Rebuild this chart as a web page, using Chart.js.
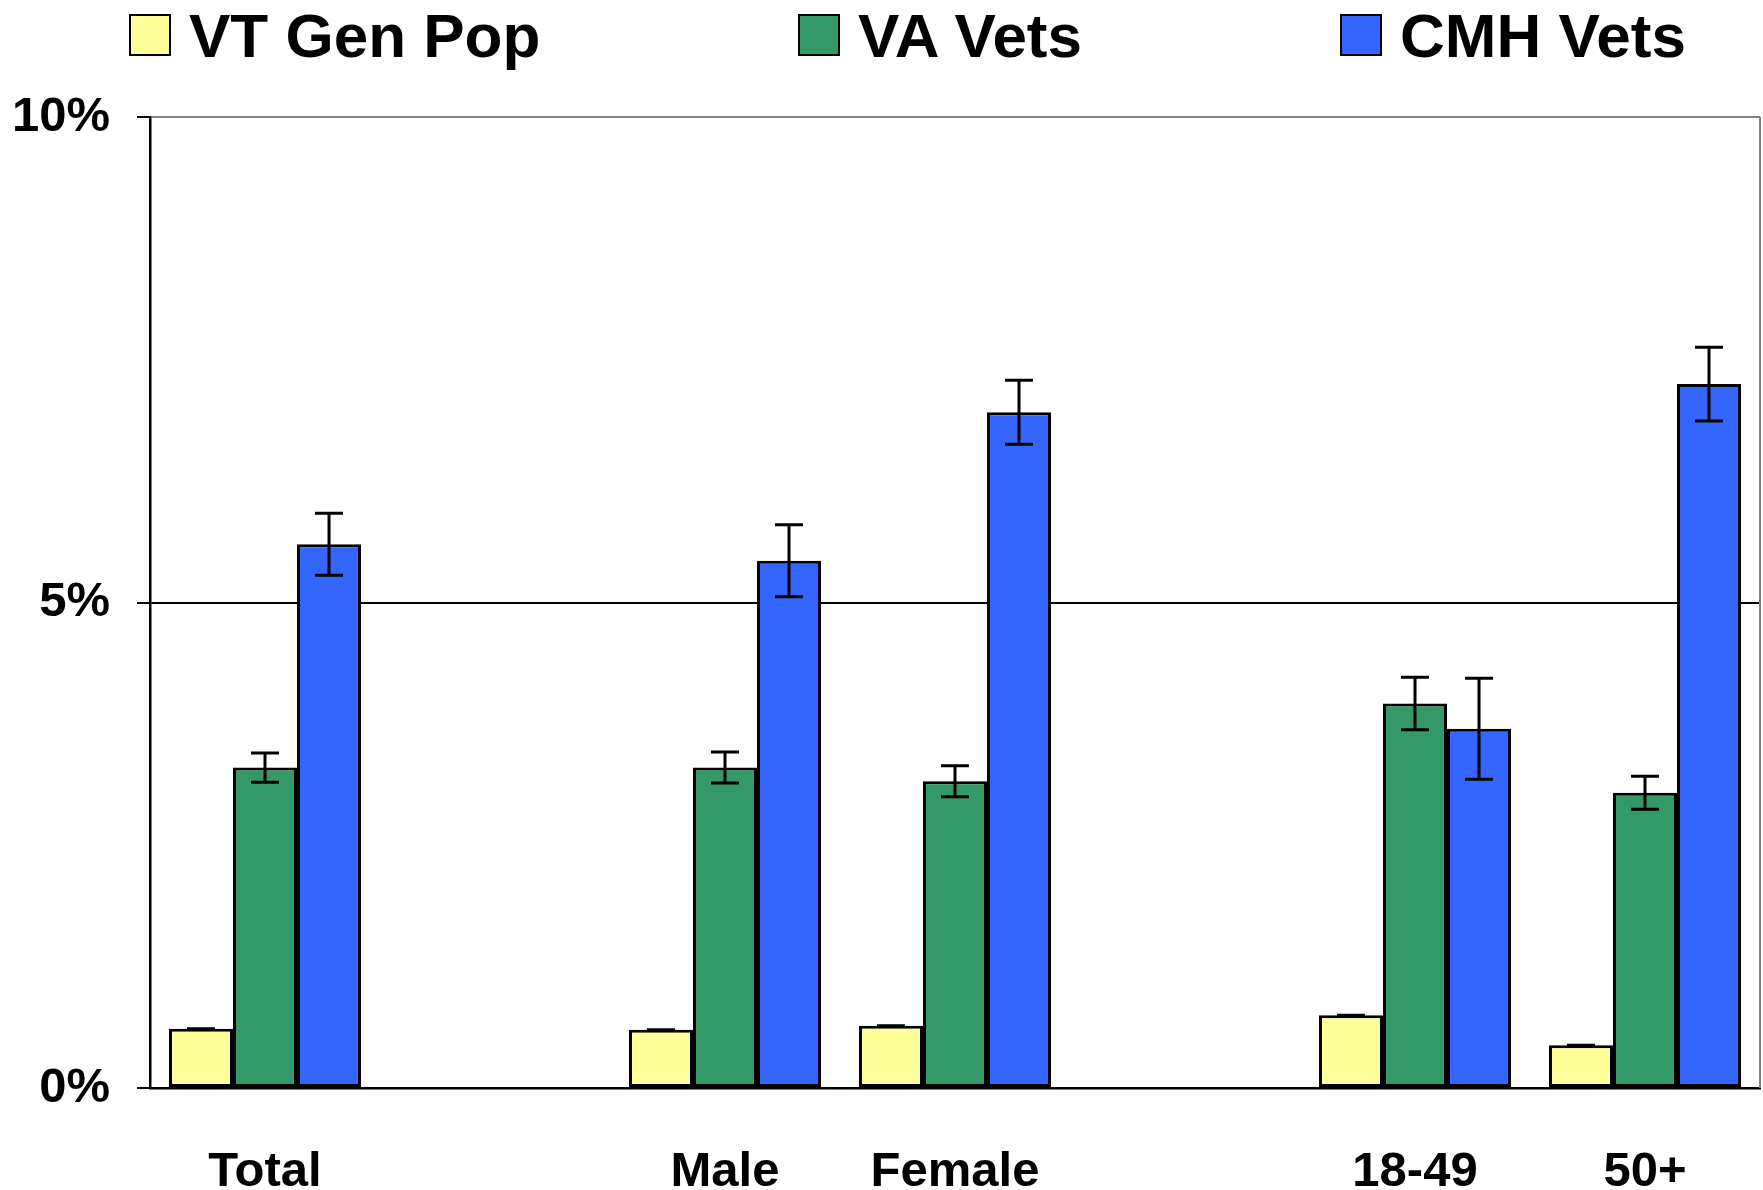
<!DOCTYPE html>
<html>
<head>
<meta charset="utf-8">
<script src="https://cdn.jsdelivr.net/npm/chart.js@4/dist/chart.umd.min.js"></script>
<style>
  body { margin: 0; background: #fff; }
  #wrap { position: relative; width: 1763px; height: 1190px; }
  .leg { position: absolute; top: 0; height: 70px; display: flex; align-items: center;
         font: bold 62px "Liberation Sans", Arial, sans-serif; color: #000; white-space: nowrap; }
  .leg span.box { display: inline-block; width: 38px; height: 38px; border: 2.5px solid #000; margin-right: 18px; }
</style>
</head>
<body>
<div id="wrap">
  <canvas id="graphique"></canvas>
  <div id="legende"></div>
</div>
<script>
const categories = ["Total", "", "Male", "Female", "", "18-49", "50+"]
const seriesNames = ["VT Gen Pop", "VA Vets", "CMH Vets"]
const seriesColors = ["#FFFF99", "#339966", "#3366FF"]

// valeurs en %
const vtGenPop = [0.61, null, 0.60, 0.64, null, 0.75, 0.44]
const vaVets = [3.30, null, 3.30, 3.16, null, 3.96, 3.04]
const cmhVets = [5.60, null, 5.43, 6.96, null, 3.70, 7.25]

// marges d'erreur (+/-)
const vtGenPopErr = [0, null, 0, 0, null, 0, 0]
const vaVetsErr = [0.15, null, 0.16, 0.16, null, 0.27, 0.17]
const cmhVetsErr = [0.32, null, 0.37, 0.33, null, 0.52, 0.38]

const yTicks = [0, 5, 10]

const values = [vtGenPop, vaVets, cmhVets]
const errors = [vtGenPopErr, vaVetsErr, cmhVetsErr]

// légende en haut
const legendLeft = [129, 798, 1340]
const legende = document.querySelector("#legende")
seriesNames.forEach((name, i) => {
    const item = document.createElement("div")
    item.className = "leg"
    item.style.left = legendLeft[i] + "px"
    item.innerHTML = '<span class="box" style="background:' + seriesColors[i] + '"></span>' + name
    legende.appendChild(item)
})

// barres d'erreur + cadre gris
const errorBars = {
    id: "errorBars",
    afterDatasetsDraw(chart) {
        const ctx = chart.ctx
        const y = chart.scales.y
        ctx.save()
        ctx.strokeStyle = "#000"
        ctx.lineWidth = 3
        chart.data.datasets.forEach((ds, i) => {
            const meta = chart.getDatasetMeta(i)
            meta.data.forEach((bar, j) => {
                const v = ds.data[j]
                const e = errors[i][j]
                if (v === null || e === null) return
                const hi = y.getPixelForValue(v + e)
                const lo = y.getPixelForValue(v - e)
                const half = 14
                ctx.beginPath()
                ctx.moveTo(bar.x, hi); ctx.lineTo(bar.x, lo)
                ctx.moveTo(bar.x - half, hi); ctx.lineTo(bar.x + half, hi)
                ctx.moveTo(bar.x - half, lo); ctx.lineTo(bar.x + half, lo)
                ctx.stroke()
            })
        })
        const a = chart.chartArea
        ctx.strokeStyle = "#808080"
        ctx.lineWidth = 2
        ctx.beginPath()
        ctx.moveTo(a.right, a.top); ctx.lineTo(a.right, a.bottom)
        ctx.stroke()
        ctx.restore()
    }
}

const data = {
    labels: categories,
    datasets: seriesNames.map((name, i) => ({
        label: name,
        data: values[i],
        backgroundColor: seriesColors[i],
        borderColor: "#000",
        borderWidth: 3,
        borderSkipped: false,
        categoryPercentage: 0.835,
        barPercentage: 1.0
    }))
}

const config = {
    type: "bar",
    data: data,
    options: {
        responsive: true,
        maintainAspectRatio: false,
        animation: false,
        layout: { padding: { top: 117, right: 3, left: 0, bottom: 0 } },
        plugins: {
            legend: { display: false },
            tooltip: { enabled: false }
        },
        scales: {
            x: {
                grid: { display: false, drawTicks: false },
                border: { display: true, color: "#000", width: 2.5 },
                ticks: {
                    color: "#000",
                    padding: 55,
                    maxRotation: 0,
                    autoSkip: false,
                    font: { family: "'Liberation Sans', Arial, sans-serif", size: 49, weight: "bold" }
                },
                afterFit(scale) { scale.height = 102 }
            },
            y: {
                min: 0,
                max: 10,
                afterBuildTicks(scale) { scale.ticks = yTicks.map(v => ({ value: v })) },
                grid: {
                    color: c => c.tick && c.tick.value === 10 ? "#808080" : "#000",
                    lineWidth: 2,
                    tickColor: "#000",
                    tickLength: 13
                },
                border: { color: "#000", width: 2.5 },
                ticks: {
                    color: "#000",
                    padding: 27,
                    callback: v => v + "%",
                    font: { family: "'Liberation Sans', Arial, sans-serif", size: 49, weight: "bold" }
                },
                afterFit(scale) { scale.width = 150 }
            }
        }
    },
    plugins: [errorBars]
}

new Chart(
    document.querySelector("#graphique"),
    config,
)
</script>
</body>
</html>
